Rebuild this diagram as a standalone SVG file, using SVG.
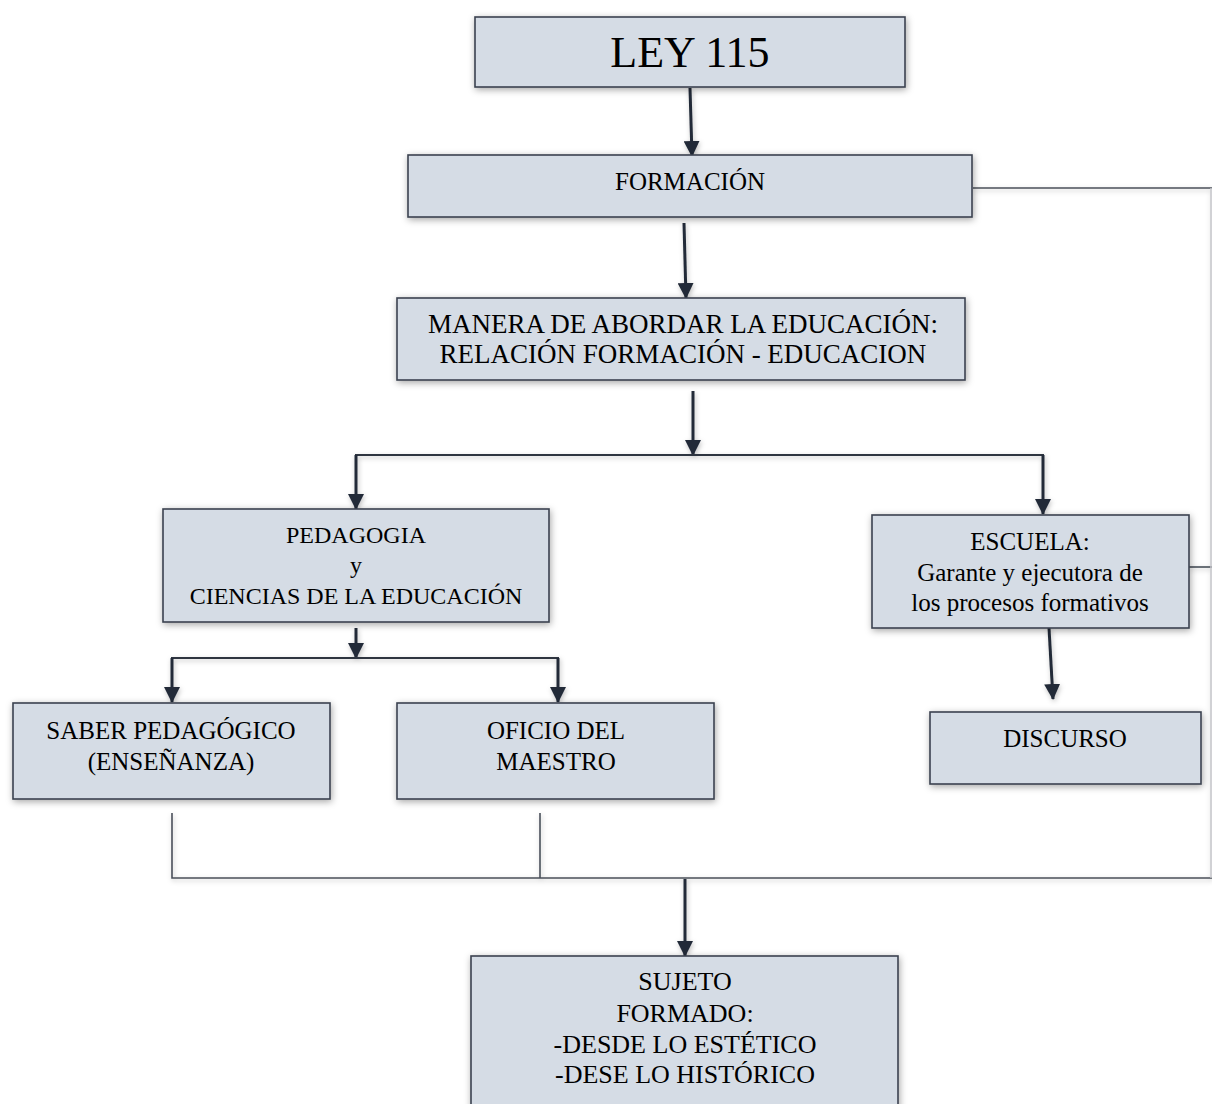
<svg xmlns="http://www.w3.org/2000/svg" width="1212" height="1104" viewBox="0 0 1212 1104">
<defs>
<filter id="sh" x="-10%" y="-20%" width="120%" height="140%">
<feDropShadow dx="1" dy="2" stdDeviation="3.5" flood-color="#000" flood-opacity="0.35"/>
</filter>
<filter id="lsh" x="-5%" y="-50%" width="110%" height="200%" filterUnits="userSpaceOnUse">
<feDropShadow dx="1" dy="2" stdDeviation="2.5" flood-color="#000" flood-opacity="0.25"/>
</filter>
<marker id="arr" markerUnits="userSpaceOnUse" markerWidth="16" markerHeight="16" viewBox="0 0 16 16" refX="15" refY="8" orient="auto">
<path d="M0,0 L16,8 L0,16 Z" fill="#232b38"/>
</marker>
</defs>
<style>
.box{fill:#d5dce5;stroke:#3b4350;stroke-width:1.6;filter:url(#sh)}
.t{font-family:"Liberation Serif","Times New Roman",serif;fill:#000;text-anchor:middle}
.a{stroke:#232b38;stroke-width:3;fill:none;marker-end:url(#arr)}
.l{stroke:#4a505a;stroke-width:1.6;fill:none}
.h{stroke:#2d3440;stroke-width:2;fill:none}
</style>
<rect width="1212" height="1104" fill="#fff"/>
<g id="connectors" filter="url(#lsh)">
<line class="a" x1="690" y1="88" x2="692" y2="156"/>
<line class="a" x1="684" y1="223" x2="686" y2="298"/>
<line class="a" x1="693" y1="391" x2="693" y2="455"/>
<polyline class="h" points="356,508 356,455 1043,455 1043,513"/>
<line class="a" x1="356" y1="455" x2="356" y2="509"/>
<line class="a" x1="1043" y1="455" x2="1043" y2="514"/>
<line class="a" x1="356" y1="628" x2="356" y2="658"/>
<polyline class="h" points="172,700 172,658 558,658 558,700"/>
<line class="a" x1="172" y1="658" x2="172" y2="702"/>
<line class="a" x1="558" y1="658" x2="558" y2="702"/>
<line class="a" x1="1049" y1="628" x2="1053" y2="699"/>
<polyline class="l" points="172,813 172,878 1212,878"/>
<line class="l" x1="540" y1="813" x2="540" y2="878"/>
<line class="l" x1="973" y1="188" x2="1212" y2="188"/>
<line class="l" x1="1189" y1="567" x2="1212" y2="567"/>
<line x1="1211" y1="188" x2="1211" y2="878" stroke="#c4c6ca" stroke-width="1.5"/>
<line class="a" x1="685" y1="879" x2="685" y2="956"/>
</g>
<g id="ley115">
<rect class="box" x="475" y="17" width="430" height="70"/>
<text class="t" x="690" y="67" font-size="44">LEY 115</text>
</g>
<g id="formacion">
<rect class="box" x="408" y="155" width="564" height="62"/>
<text class="t" x="690" y="190" font-size="25">FORMACIÓN</text>
</g>
<g id="manera">
<rect class="box" x="397" y="298" width="568" height="82"/>
<text class="t" x="683" y="333" font-size="27">MANERA DE ABORDAR LA EDUCACIÓN:</text>
<text class="t" x="683" y="363" font-size="27">RELACIÓN FORMACIÓN - EDUCACION</text>
</g>
<g id="pedagogia">
<rect class="box" x="163" y="509" width="386" height="113"/>
<text class="t" x="356" y="543" font-size="24">PEDAGOGIA</text>
<text class="t" x="356" y="573" font-size="24">y</text>
<text class="t" x="356" y="604" font-size="24">CIENCIAS DE LA EDUCACIÓN</text>
</g>
<g id="escuela">
<rect class="box" x="872" y="515" width="317" height="113"/>
<text class="t" x="1030" y="550" font-size="25">ESCUELA:</text>
<text class="t" x="1030" y="581" font-size="25">Garante y ejecutora de</text>
<text class="t" x="1030" y="611" font-size="25">los procesos formativos</text>
</g>
<g id="saber">
<rect class="box" x="13" y="703" width="317" height="96"/>
<text class="t" x="171" y="739" font-size="25">SABER PEDAGÓGICO</text>
<text class="t" x="171" y="770" font-size="25">(ENSEÑANZA)</text>
</g>
<g id="oficio">
<rect class="box" x="397" y="703" width="317" height="96"/>
<text class="t" x="556" y="739" font-size="25">OFICIO DEL</text>
<text class="t" x="556" y="770" font-size="25">MAESTRO</text>
</g>
<g id="discurso">
<rect class="box" x="930" y="712" width="271" height="72"/>
<text class="t" x="1065" y="747" font-size="25">DISCURSO</text>
</g>
<g id="sujeto">
<rect class="box" x="471" y="956" width="427" height="160"/>
<text class="t" x="685" y="990" font-size="26">SUJETO</text>
<text class="t" x="685" y="1022" font-size="26">FORMADO:</text>
<text class="t" x="685" y="1053" font-size="26">-DESDE LO ESTÉTICO</text>
<text class="t" x="685" y="1083" font-size="26">-DESE LO HISTÓRICO</text>
</g>
</svg>
